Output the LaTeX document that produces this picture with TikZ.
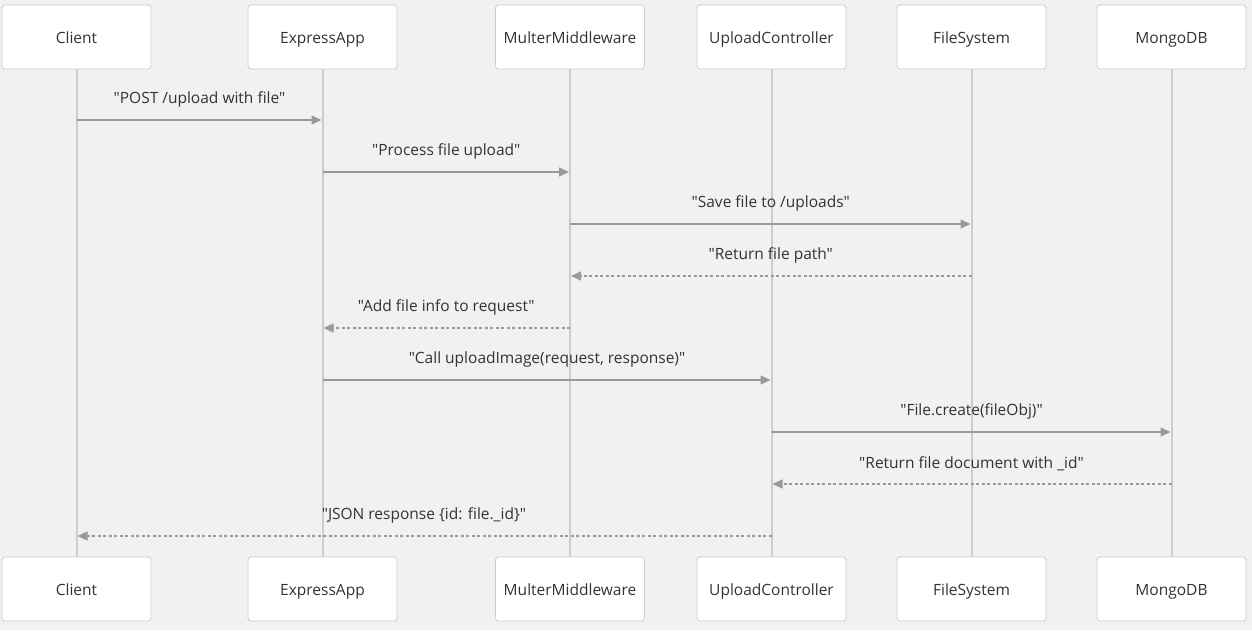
\documentclass[tikz,border=0pt]{standalone}
\usepackage{fontspec}
\setmainfont{Open Sans}[Ligatures=TeXOff]
\usetikzlibrary{arrows.meta}
\definecolor{bg}{HTML}{F2F1F0}
\definecolor{boxline}{HTML}{CCCCCC}
\definecolor{lifeline}{HTML}{CCCCCC}
\definecolor{arrowc}{HTML}{999999}
\definecolor{txt}{HTML}{333333}

\begin{document}
\begin{tikzpicture}[x=1pt,y=-1pt,
    actor/.style={draw=boxline, fill=white, rounded corners=3pt, line width=0.8pt,
        minimum width=149pt, minimum height=64pt, text=txt,
        text height=13.5pt, text depth=1.5pt,
        font=\fontsize{15.5}{18}\selectfont},
    life/.style={draw=lifeline, line width=2pt},
    msg/.style={draw=arrowc, line width=1.3pt, shorten >=1pt,
        -{Triangle[length=10pt,width=9pt]}},
    reply/.style={msg, dash pattern=on 3pt off 2.5pt},
    lbl/.style={text=txt, yshift=20.5pt, font=\fontsize{15.5}{18}\selectfont}]
    % Background and page size
    \fill[bg] (0,0) rectangle (1252,630);
    \useasboundingbox (0,0) rectangle (1252,630);
    % Participants at top
    \node[actor] (tc) at (76.5,37) {Client};
    \node[actor] (te) at (322.5,37) {ExpressApp};
    \node[actor] (tm) at (570,37) {MulterMiddleware};
    \node[actor] (tu) at (771.5,37) {UploadController};
    \node[actor] (tf) at (971.5,37) {FileSystem};
    \node[actor] (tdb) at (1171.5,37) {MongoDB};
    % Participants at bottom
    \node[actor] (bc) at (76.5,589) {Client};
    \node[actor] (be) at (322.5,589) {ExpressApp};
    \node[actor] (bm) at (570,589) {MulterMiddleware};
    \node[actor] (bu) at (771.5,589) {UploadController};
    \node[actor] (bf) at (971.5,589) {FileSystem};
    \node[actor] (bdb) at (1171.5,589) {MongoDB};
    % Lifelines
    \draw[life] (tc.south) -- (bc.north);
    \draw[life] (te.south) -- (be.north);
    \draw[life] (tm.south) -- (bm.north);
    \draw[life] (tu.south) -- (bu.north);
    \draw[life] (tf.south) -- (bf.north);
    \draw[life] (tdb.south) -- (bdb.north);
    % Message rows
    \coordinate (m1) at (0,120);
    \coordinate (m2) at (0,172);
    \coordinate (m3) at (0,224);
    \coordinate (m4) at (0,276);
    \coordinate (m5) at (0,328);
    \coordinate (m6) at (0,380);
    \coordinate (m7) at (0,432);
    \coordinate (m8) at (0,484);
    \coordinate (m9) at (0,536);
    % Messages
    \draw[msg] (tc |- m1) -- node[lbl] {"POST /upload with file"} (te |- m1);
    \draw[msg] (te |- m2) -- node[lbl] {"Process file upload"} (tm |- m2);
    \draw[msg] (tm |- m3) -- node[lbl] {"Save file to /uploads"} (tf |- m3);
    \draw[reply] (tf |- m4) -- node[lbl] {"Return file path"} (tm |- m4);
    \draw[reply] (tm |- m5) -- node[lbl] {"Add file info to request"} (te |- m5);
    \draw[msg] (te |- m6) -- node[lbl] {"Call uploadImage(request, response)"} (tu |- m6);
    \draw[msg] (tu |- m7) -- node[lbl] {"File.create(fileObj)"} (tdb |- m7);
    \draw[reply] (tdb |- m8) -- node[lbl] {"Return file document with \_id"} (tu |- m8);
    \draw[reply] (tu |- m9) -- node[lbl] {"JSON response \{id: file.\_id\}"} (tc |- m9);
\end{tikzpicture}
\end{document}
